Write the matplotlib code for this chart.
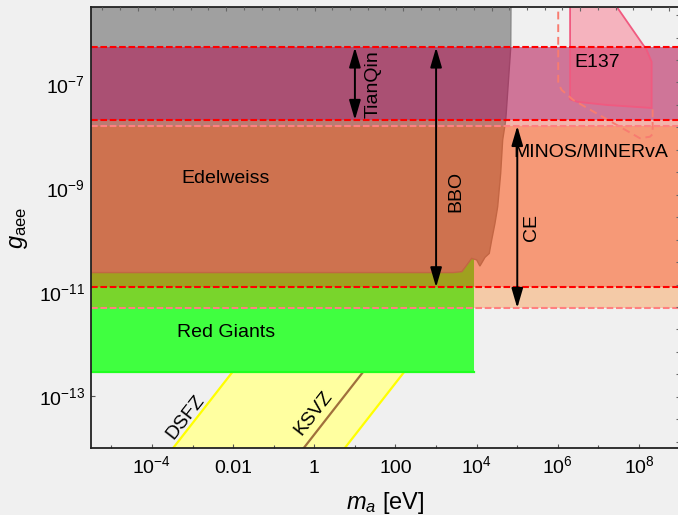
import matplotlib
matplotlib.use("Agg")
import matplotlib.pyplot as plt
from matplotlib.ticker import FixedLocator, NullFormatter, MultipleLocator
from matplotlib.patches import Polygon, ArrowStyle

plt.rcParams['font.family'] = ['Liberation Sans', 'DejaVu Sans']
plt.rcParams['mathtext.fontset'] = 'custom'
plt.rcParams['mathtext.rm'] = 'Liberation Sans'
plt.rcParams['mathtext.it'] = 'Liberation Sans:italic'
plt.rcParams['mathtext.sf'] = 'Liberation Sans'

# ---------------- data ----------------
x_limits = [3.1e-6, 1.02e9]
y_limits = [1.03e-14, 3.1e-6]

x_major = [1e-4, 1e-2, 1, 1e2, 1e4, 1e6, 1e8]
x_labels = [r'$10^{-4}$', '0.01', '1', '100', r'$10^{4}$', r'$10^{6}$', r'$10^{8}$']
x_minor = [1e-5, 1e-3, 1e-1, 1e1, 1e3, 1e5, 1e7]
y_major = [1e-7, 1e-9, 1e-11, 1e-13]
y_labels = [r'$10^{-7}$', r'$10^{-9}$', r'$10^{-11}$', r'$10^{-13}$']
y_minor = [1e-6, 1e-8, 1e-10, 1e-12, 1e-14]

# QCD axion band (g proportional to m)
dsfz_m = [1e-4, 1e-1]
dsfz_g = [3.05e-15, 3.05e-12]
ksvz_m = [1e-1, 1e2]
ksvz_g = [1.85e-15, 1.85e-12]
edge_m = [1.0, 1e3]
edge_g = [1.8e-15, 1.8e-12]

# Red giants
rg_m = [1e-7, 8.4e3]
rg_g = [2.9e-13, 4.5e-11]

# Grey exclusion / Edelweiss region (right boundary, top to bottom)
grey_m = [7.05e4, 7.0e4, 6.9e4, 5.2e4, 4.37e4, 3.9e4, 3.29e4, 2.82e4, 2.34e4,
          2.04e4, 1.6e4, 1.2e4, 1.0e4, 7.5e3, 5.7e3, 4.3e3, 2.65e3, 1e-7, 1e-7]
grey_g = [1e-5, 3.1e-6, 5.1e-7, 2.06e-8, 8.5e-9, 1.94e-9, 4.42e-10, 2.12e-10, 1.01e-10,
          5.6e-11, 4.7e-11, 3.2e-11, 4.2e-11, 4.5e-11, 3.35e-11, 2.5e-11, 2.4e-11, 2.4e-11, 1e-5]

# GW detector sensitivity bands
tianqin_band = [2.06e-8, 5.1e-7]
bbo_band = [1.25e-11, 5.1e-7]
ce_band = [5.0e-12, 1.58e-8]
arrow_m = {'TianQin': 10.0, 'BBO': 1e3, 'CE': 1e5}

# E137 region
e137_m = [2.0e6, 2.0e6, 3.0e6, 1.6e7, 2.04e8, 2.04e8, 1.54e8, 1.84e7]
e137_g = [5e-6, 5.15e-8, 4.6e-8, 4.0e-8, 3.5e-8, 2.69e-7, 4.57e-7, 5e-6]

# MINOS/MINERvA dashed contour
minos_m = [1.02e6, 1.02e6, 1.24e6, 2.39e6, 1.05e8, 1.85e8, 2.16e8, 2.16e8]
minos_g = [5e-6, 1.045e-7, 7.77e-8, 4.99e-8, 9.16e-9, 9.8e-9, 1.1e-8, 3.5e-8]

# ---------------- figure ----------------
BG = '#f0f0f0'
fig = plt.figure(figsize=(6.78, 5.15), dpi=100, facecolor=BG)
ax = fig.add_axes([90.7 / 678, 1 - 447.7 / 515, (680 - 90.7) / 678, 441 / 515])
ax.set_facecolor(BG)
ax.set_xscale('log')
ax.set_yscale('log')
ax.set_xlim(*x_limits)
ax.set_ylim(*y_limits)

# axion band
band_m = dsfz_m + edge_m[::-1]
band_g = dsfz_g + edge_g[::-1]
ax.fill(band_m, band_g, color='#ffffa0', lw=0, zorder=1)
ax.plot(dsfz_m, dsfz_g, color='#ffff00', lw=1.6, zorder=2)
ax.plot(edge_m, edge_g, color='#ffff00', lw=1.6, zorder=2)
ax.plot(ksvz_m, ksvz_g, color='#a0703c', lw=1.6, zorder=2)

# red giants
ax.fill([rg_m[0], rg_m[1], rg_m[1], rg_m[0]], [rg_g[0], rg_g[0], rg_g[1], rg_g[1]],
        color='#40ff40', lw=0, zorder=3)
ax.plot(rg_m, [rg_g[0], rg_g[0]], color='#20ff20', lw=1.6, zorder=3)

# grey region
ax.add_patch(Polygon(list(zip(grey_m, grey_g)), closed=True, fc='#a0a0a0',
                     ec='#888888', lw=1.0, zorder=4))

# GW bands
ax.axhspan(ce_band[0], ce_band[1], color=(1.0, 117 / 255, 0.0), alpha=0.30, lw=0, zorder=5)
ax.axhspan(bbo_band[0], bbo_band[1], color=(253 / 255, 34 / 255, 2 / 255), alpha=0.29, lw=0, zorder=5)
ax.axhspan(tianqin_band[0], tianqin_band[1], color=(141 / 255, 0.0, 119 / 255), alpha=0.35, lw=0, zorder=5)

# E137
ax.fill(e137_m, e137_g, fc=(1.0, 0.35, 0.45, 0.4), ec='#f05a80', lw=1.3, zorder=6)
# MINOS
ax.plot(minos_m, minos_g, color='#f87c70', lw=1.4, ls=(0, (4, 2.5)), zorder=6)

# dashed band edges
dash = (0, (3.2, 1.3))
for g in [tianqin_band[1], tianqin_band[0], bbo_band[0]]:
    ax.axhline(g, color='#ff0000', lw=1.5, ls=dash, zorder=7)
for g in ce_band:
    ax.axhline(g, color='#ff8080', lw=1.5, ls=dash, zorder=7)

# arrows
astyle = ArrowStyle('<|-|>', head_length=1.2, head_width=0.35)
for name, lo, hi in [('TianQin', tianqin_band[0], tianqin_band[1]),
                     ('BBO', bbo_band[0], bbo_band[1]),
                     ('CE', ce_band[0], ce_band[1])]:
    m = arrow_m[name]
    ax.annotate('', xy=(m, hi), xytext=(m, lo),
                arrowprops=dict(arrowstyle=astyle, mutation_scale=10, lw=1.4,
                                color='black', shrinkA=0, shrinkB=0), zorder=8)

# labels
fs = 14
ax.text(6.6e-3, 1.56e-9, 'Edelweiss', fontsize=fs, ha='center', va='center', zorder=9)
ax.text(6.6e-3, 1.69e-12, 'Red Giants', fontsize=fs, ha='center', va='center', zorder=9)
ax.text(28, 1e-7, 'TianQin', fontsize=fs, ha='center', va='center', rotation=90, zorder=9)
ax.text(3.0e3, 8.6e-10, 'BBO', fontsize=fs, ha='center', va='center', rotation=90, zorder=9)
ax.text(2.3e5, 1.76e-10, 'CE', fontsize=fs, ha='center', va='center', rotation=90, zorder=9)
ax.text(9.4e6, 2.6e-7, 'E137', fontsize=fs, ha='center', va='center', zorder=9)
ax.text(6.5e6, 4.8e-9, 'MINOS/MINERvA', fontsize=fs, ha='center', va='center', zorder=9)
ax.text(6.8e-4, 4.06e-14, 'DSFZ', fontsize=fs, ha='center', va='center', rotation=52, zorder=9)
ax.text(0.94, 4.7e-14, 'KSVZ', fontsize=fs, ha='center', va='center', rotation=52, zorder=9)

# ticks
ax.xaxis.set_major_locator(FixedLocator(x_major))
ax.xaxis.set_minor_locator(FixedLocator(x_minor))
ax.set_xticks(x_major, x_labels, va='baseline')
ax.xaxis.set_minor_formatter(NullFormatter())
ax.yaxis.set_major_locator(FixedLocator(y_major))
ax.yaxis.set_minor_locator(FixedLocator(y_minor))
ax.set_yticks(y_major, y_labels)
ax.yaxis.set_minor_formatter(NullFormatter())
ax.tick_params(which='both', direction='in', top=False, right=False, color='#555555',
               labelsize=14, zorder=10)
ax.tick_params(axis='x', which='major', length=3.2, width=0.8, pad=18.4)
ax.tick_params(axis='y', which='major', length=3.2, width=0.8, pad=4.1)
ax.tick_params(which='minor', length=2.0, width=0.8)
for s in ax.spines.values():
    s.set_color('#222222')
    s.set_linewidth(1.3)
    s.set_zorder(11)

# unlabelled frame ticks on top and right
axt = ax.twiny()
axt.set_xlim(-2.655, 30.64)
axt.xaxis.set_major_locator(MultipleLocator(5))
axt.xaxis.set_minor_locator(MultipleLocator(1))
axt.tick_params(axis='x', which='both', direction='in', top=True, bottom=False,
                labeltop=False, labelbottom=False, color='#666666', width=0.8)
axt.tick_params(axis='x', which='major', length=3.2)
axt.tick_params(axis='x', which='minor', length=1.8)
for s in axt.spines.values():
    s.set_visible(False)

axr = ax.twinx()
axr.set_ylim(-0.267, 19.376)
axr.yaxis.set_major_locator(MultipleLocator(1))
axr.tick_params(axis='y', which='both', direction='in', right=True, left=False,
                labelright=False, labelleft=False, color='#666666', width=0.8, length=2.6)
for s in axr.spines.values():
    s.set_visible(False)

# axis labels
fig.text(385 / 678, 1 - 509 / 515, r'$m_a$ [eV]', fontsize=17, ha='center', va='baseline')
fig.text(18.5 / 678, 1 - 227.5 / 515, r'$g_{\mathrm{aee}}$', fontsize=17, ha='center',
         va='center', rotation=90)

fig.savefig('out.png', dpi=100, facecolor=BG)
